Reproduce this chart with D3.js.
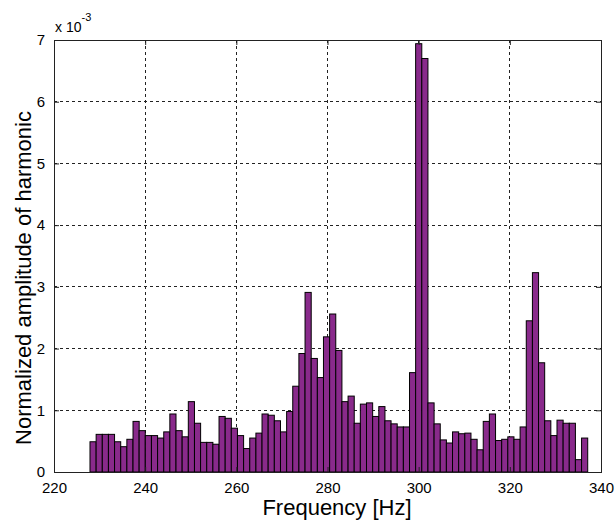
<!DOCTYPE html>
<html>
<head>
<meta charset="utf-8">
<script src="https://cdn.jsdelivr.net/npm/d3@7"></script>
<style>
  body { margin: 0; background: #fff; }
  svg { display: block; font-family: "Liberation Sans", Arial, sans-serif; }
</style>
</head>
<body>
<div id="chart"></div>
<script>
// frequency bins (Hz) and normalized harmonic amplitude (x 10^-3)
const freqs = [
  228.57, 229.92, 231.27, 232.61, 233.96, 235.31, 236.66, 238.01, 239.35, 240.70,
  242.05, 243.40, 244.75, 246.09, 247.44, 248.79, 250.14, 251.49, 252.83, 254.18,
  255.53, 256.88, 258.23, 259.57, 260.92, 262.27, 263.62, 264.97, 266.31, 267.66,
  269.01, 270.36, 271.71, 273.05, 274.40, 275.75, 277.10, 278.45, 279.79, 281.14,
  282.49, 283.84, 285.19, 286.53, 287.88, 289.23, 290.58, 291.93, 293.27, 294.62,
  295.97, 297.32, 298.67, 300.01, 301.36, 302.71, 304.06, 305.41, 306.75, 308.10,
  309.45, 310.80, 312.15, 313.49, 314.84, 316.19, 317.54, 318.89, 320.23, 321.58,
  322.93, 324.28, 325.63, 326.97, 328.32, 329.67, 331.02, 332.37, 333.71, 335.06,
  336.41
]
const amps = [
  0.49, 0.61, 0.61, 0.61, 0.49, 0.41, 0.53, 0.82, 0.67, 0.59,
  0.59, 0.55, 0.65, 0.94, 0.67, 0.57, 1.14, 0.79, 0.48, 0.48,
  0.45, 0.90, 0.87, 0.71, 0.59, 0.38, 0.55, 0.63, 0.94, 0.92,
  0.83, 0.65, 0.98, 1.39, 1.92, 2.91, 1.84, 1.53, 2.19, 2.56,
  1.97, 1.14, 1.23, 0.79, 1.10, 1.12, 0.90, 1.06, 0.83, 0.78,
  0.73, 0.73, 1.61, 6.94, 6.70, 1.12, 0.78, 0.52, 0.47, 0.65,
  0.62, 0.63, 0.53, 0.36, 0.82, 0.94, 0.51, 0.53, 0.57, 0.53,
  0.73, 2.45, 3.23, 1.77, 0.83, 0.59, 0.84, 0.79, 0.79, 0.20,
  0.55
]
const xTicks = [220, 240, 260, 280, 300, 320, 340]
const yTicks = [0, 1, 2, 3, 4, 5, 6, 7]

const W = 616, H = 522
const plot = { left: 54, right: 601, top: 40, bottom: 472 }

const svg = d3.select("#chart")
  .append("svg")
  .attr("width", W)
  .attr("height", H)

svg.append("rect").attr("width", W).attr("height", H).attr("fill", "#fff")

const x = d3.scaleLinear().domain([220, 340]).range([plot.left, plot.right])
const y = d3.scaleLinear().domain([0, 7]).range([plot.bottom, plot.top])

// dotted grid
svg.selectAll(".xgrid")
  .data(xTicks.slice(1, -1))
  .join("line")
  .attr("x1", d => x(d)).attr("x2", d => x(d))
  .attr("y1", plot.top).attr("y2", plot.bottom)
  .attr("stroke", "#222").attr("stroke-width", 1)
  .attr("stroke-dasharray", "3,3")
  .attr("shape-rendering", "crispEdges")

svg.selectAll(".ygrid")
  .data(yTicks.slice(1, -1))
  .join("line")
  .attr("x1", plot.left).attr("x2", plot.right)
  .attr("y1", d => y(d)).attr("y2", d => y(d))
  .attr("stroke", "#222").attr("stroke-width", 1)
  .attr("stroke-dasharray", "3,3")
  .attr("shape-rendering", "crispEdges")

// bars
const step = freqs[1] - freqs[0]
svg.selectAll(".bar")
  .data(freqs.map((f, i) => ({ f, v: amps[i] })))
  .join("rect")
  .attr("x", d => x(d.f - step / 2))
  .attr("width", d => x(d.f + step / 2) - x(d.f - step / 2))
  .attr("y", d => y(d.v))
  .attr("height", d => y(0) - y(d.v))
  .attr("fill", "#892a8b")
  .attr("stroke", "#000")
  .attr("stroke-width", 1)

// axes box
svg.append("rect")
  .attr("x", plot.left).attr("y", plot.top)
  .attr("width", plot.right - plot.left)
  .attr("height", plot.bottom - plot.top)
  .attr("fill", "none")
  .attr("stroke", "#222")
  .attr("stroke-width", 1)
  .attr("shape-rendering", "crispEdges")

// inward ticks on all four sides
const tl = 5
const gx = svg.append("g")
  .attr("transform", `translate(0,${plot.bottom})`)
  .call(d3.axisBottom(x).tickValues(xTicks).tickSizeInner(-tl).tickSizeOuter(0).tickPadding(10))
gx.select(".domain").remove()
gx.selectAll(".tick line").attr("stroke", "#222")
gx.selectAll(".tick text")
  .attr("fill", "#000")
  .style("font-size", "15px")

const gxTop = svg.append("g")
  .attr("transform", `translate(0,${plot.top})`)
  .call(d3.axisTop(x).tickValues(xTicks).tickSizeInner(-tl).tickSizeOuter(0).tickFormat(""))
gxTop.select(".domain").remove()
gxTop.selectAll(".tick line").attr("stroke", "#222")

const gy = svg.append("g")
  .attr("transform", `translate(${plot.left},0)`)
  .call(d3.axisLeft(y).tickValues(yTicks).tickFormat(d3.format("d"))
    .tickSizeInner(-tl).tickSizeOuter(0).tickPadding(9))
gy.select(".domain").remove()
gy.selectAll(".tick line").attr("stroke", "#222")
gy.selectAll(".tick text")
  .attr("fill", "#000")
  .style("font-size", "15px")

const gyRight = svg.append("g")
  .attr("transform", `translate(${plot.right},0)`)
  .call(d3.axisRight(y).tickValues(yTicks).tickSizeInner(-tl).tickSizeOuter(0).tickFormat(""))
gyRight.select(".domain").remove()
gyRight.selectAll(".tick line").attr("stroke", "#222")

// exponent label
const expo = svg.append("text")
  .attr("x", plot.left + 1)
  .attr("y", 32)
  .style("font-size", "14px")
  .attr("fill", "#000")
expo.append("tspan").text("x 10")
expo.append("tspan")
  .attr("dy", -11)
  .style("font-size", "11px")
  .text("-3")

// axis labels
svg.append("text")
  .attr("x", 337)
  .attr("y", 515)
  .attr("text-anchor", "middle")
  .style("font-size", "22px")
  .attr("fill", "#000")
  .text("Frequency [Hz]")

svg.append("text")
  .attr("transform", "translate(31,278) rotate(-90)")
  .attr("text-anchor", "middle")
  .style("font-size", "22px")
  .attr("fill", "#000")
  .text("Normalized amplitude of harmonic")
</script>
</body>
</html>
